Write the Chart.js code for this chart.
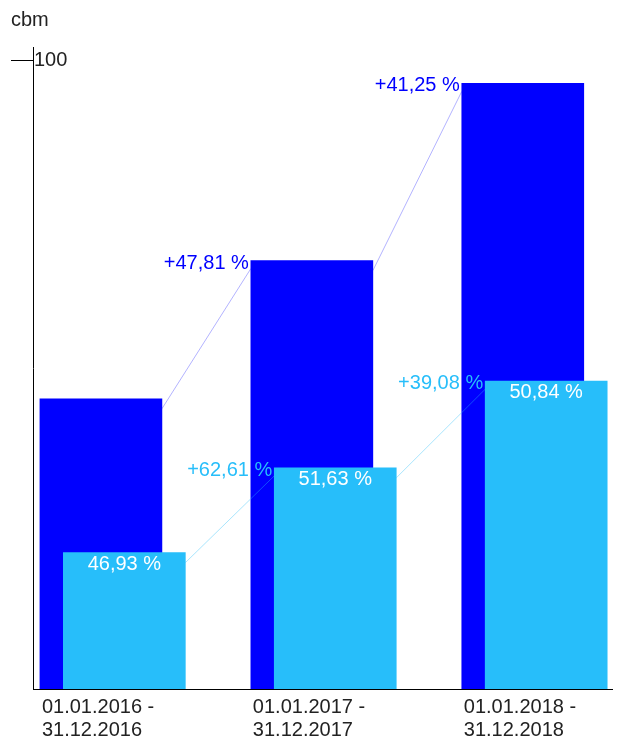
<!DOCTYPE html>
<html>
<head>
<meta charset="utf-8">
<script src="https://cdn.jsdelivr.net/npm/chart.js@4.4.1/dist/chart.umd.min.js"></script>
<style>
  html, body { margin: 0; padding: 0; background: #fff; }
  #wrap { width: 617px; height: 742px; }
</style>
</head>
<body>
<div id="wrap"><canvas id="volumeChart"></canvas></div>
<script>
var periods = [
  ['01.01.2016 -', '31.12.2016'],
  ['01.01.2017 -', '31.12.2017'],
  ['01.01.2018 -', '31.12.2018']
];
var totalVolume = [46.2, 68.2, 96.4];
var partVolume = [21.7, 35.2, 49.0];
var partShare = [46.93, 51.63, 50.84];
var totalGrowth = [null, 47.81, 41.25];
var partGrowth = [null, 62.61, 39.08];
var yTicks = [100];

var DARK = '#0000ff';
var LIGHT = '#27befa';
var FONT = '"Liberation Sans", Arial, sans-serif';

Chart.defaults.font.family = FONT;
Chart.defaults.font.size = 20;

function fmt(v) {
  return v.toFixed(2).replace('.', ',') + ' %';
}

function toPoint(v, i) {
  return { x: i, y: v };
}

// thin line from one bar top to the next, growth text in front of the next bar
function growthLine(ctx, bars, growth, lineColor, textColor) {
  for (var i = 1; i < bars.length; i++) {
    if (growth[i] == null) continue;
    var prev = bars[i - 1].getProps(['x', 'y', 'width'], true);
    var cur = bars[i].getProps(['x', 'y', 'width'], true);
    ctx.strokeStyle = lineColor;
    ctx.lineWidth = 1;
    ctx.beginPath();
    ctx.moveTo(prev.x + prev.width / 2, prev.y + 10);
    ctx.lineTo(cur.x - cur.width / 2, cur.y + 8);
    ctx.stroke();
    ctx.fillStyle = textColor;
    ctx.textAlign = 'right';
    ctx.textBaseline = 'alphabetic';
    ctx.fillText('+' + fmt(growth[i]), cur.x - cur.width / 2 - 2, cur.y + 8);
  }
}

var labelPlugin = {
  id: 'barLabels',
  afterDatasetsDraw: function(chart) {
    var ctx = chart.ctx;
    var light = chart.getDatasetMeta(0).data;
    var dark = chart.getDatasetMeta(1).data;
    ctx.save();
    ctx.font = '20px ' + FONT;
    growthLine(ctx, dark, totalGrowth, 'rgba(0,0,255,0.3)', DARK);
    growthLine(ctx, light, partGrowth, 'rgba(39,190,250,0.4)', LIGHT);
    ctx.fillStyle = '#fff';
    ctx.textAlign = 'center';
    ctx.textBaseline = 'alphabetic';
    light.forEach(function(bar, i) {
      var p = bar.getProps(['x', 'y'], true);
      ctx.fillText(fmt(partShare[i]), p.x, p.y + 17);
    });
    ctx.restore();
  }
};

new Chart(document.getElementById('volumeChart'), {
  type: 'bar',
  data: {
    datasets: [
      {
        label: 'Teil',
        data: partVolume.map(toPoint),
        backgroundColor: LIGHT,
        xAxisID: 'xPart',
        grouped: false,
        barThickness: 122
      },
      {
        label: 'Gesamt',
        data: totalVolume.map(toPoint),
        backgroundColor: DARK,
        xAxisID: 'x',
        grouped: false,
        barThickness: 122
      }
    ]
  },
  options: {
    responsive: true,
    maintainAspectRatio: false,
    animation: false,
    layout: { padding: { left: 11, right: 5, top: 0, bottom: 0 } },
    plugins: {
      legend: { display: false },
      tooltip: { enabled: false },
      title: {
        display: true,
        text: 'cbm',
        align: 'start',
        color: '#222',
        font: { size: 20, weight: 'normal' },
        padding: { top: 8, bottom: 15 }
      }
    },
    scales: {
      x: {
        type: 'linear',
        position: 'bottom',
        offset: false,
        min: -0.322,
        max: 2.423,
        grid: { display: false, drawTicks: false, offset: false },
        border: { color: '#000' },
        afterBuildTicks: function(s) {
          s.ticks = periods.map(function(p, i) { return { value: i }; });
        },
        afterFit: function(s) {
          s.height = 53;
          s.paddingLeft = 0;
          s.paddingRight = 0;
        },
        ticks: {
          callback: function(v, i) { return periods[i]; },
          align: 'start',
          labelOffset: -59,
          padding: 7,
          color: '#222',
          autoSkip: false,
          maxRotation: 0,
          font: { size: 20, lineHeight: 1.15 }
        }
      },
      xPart: {
        type: 'linear',
        axis: 'x',
        display: false,
        offset: false,
        min: -0.433,
        max: 2.312
      },
      y: {
        position: 'left',
        min: 0,
        max: 102.2,
        afterBuildTicks: function(s) {
          s.ticks = yTicks.map(function(v) { return { value: v }; });
        },
        afterFit: function(s) {
          s.width = 22;
        },
        grid: { drawOnChartArea: false, tickLength: 22, color: '#000' },
        border: { color: '#000' },
        ticks: { mirror: true, padding: 1, color: '#222', font: { size: 20 } }
      }
    }
  },
  plugins: [labelPlugin]
});
</script>
</body>
</html>
